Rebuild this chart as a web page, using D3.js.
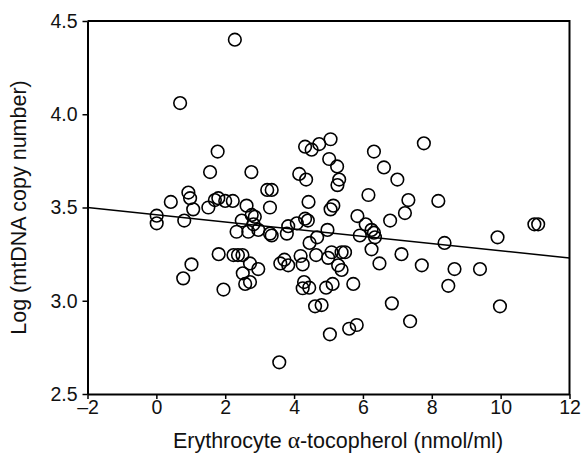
<!DOCTYPE html>
<html>
<head>
<meta charset="utf-8">
<script src="https://cdn.jsdelivr.net/npm/d3@7"></script>
<style>
  body { margin: 0; background: #fff; }
  svg { font-family: "Liberation Sans", Arial, sans-serif; }
</style>
</head>
<body>
<div class="chart"></div>
<script>
// erythrocyte alpha-tocopherol (nmol/ml)
var tocopherol = [
  0.01, 0.01, 0.42, 0.69, 0.81, 0.93, 0.98, 1.07, 1.02, 0.78,
  1.51, 1.56, 1.70, 1.80, 1.78, 1.81, 1.95, 2.00, 2.28, 2.22,
  2.62, 2.76, 2.77, 2.86, 2.48, 2.33, 2.67, 2.82, 2.96, 3.30,
  3.35, 3.22, 3.35, 3.30, 2.24, 2.37, 2.50, 2.51, 2.72, 2.96,
  2.58, 2.72, 3.60, 3.72, 3.83, 3.57, 3.83, 3.79, 4.08, 4.15,
  4.35, 4.32, 4.51, 4.73, 5.06, 5.02, 5.25, 5.31, 5.26, 4.42,
  5.14, 5.06, 4.32, 4.40, 4.97, 4.67, 4.45, 4.19, 4.25, 4.64,
  4.99, 5.09, 5.38, 5.48, 5.28, 5.38, 4.29, 4.25, 4.44, 4.93,
  5.12, 5.72, 4.61, 4.80, 5.04, 5.60, 5.82, 5.84, 6.08, 5.91,
  6.25, 6.32, 6.35, 6.16, 6.32, 6.61, 7.00, 7.32, 7.22, 6.79,
  6.25, 6.48, 7.12, 7.71, 6.84, 7.37, 7.77, 8.19, 8.37, 8.66,
  9.40, 8.48, 9.98, 9.91, 10.98, 11.09
];

// log (mtDNA copy number)
var logCopyNumber = [
  3.456, 3.415, 3.53, 4.06, 3.43, 3.58, 3.55, 3.49, 3.195, 3.12,
  3.50, 3.69, 3.54, 3.55, 3.80, 3.25, 3.06, 3.535, 4.40, 3.535,
  3.51, 3.69, 3.46, 3.45, 3.43, 3.37, 3.37, 3.41, 3.38, 3.36,
  3.35, 3.594, 3.594, 3.50, 3.245, 3.245, 3.245, 3.147, 3.20, 3.17,
  3.09, 3.10, 3.20, 3.22, 3.19, 2.67, 3.40, 3.36, 3.415, 3.68,
  3.65, 3.826, 3.81, 3.84, 3.866, 3.76, 3.72, 3.65, 3.62, 3.53,
  3.51, 3.49, 3.44, 3.43, 3.38, 3.34, 3.31, 3.24, 3.195, 3.245,
  3.23, 3.26, 3.26, 3.26, 3.19, 3.165, 3.10, 3.067, 3.07, 3.07,
  3.09, 3.09, 2.97, 2.977, 2.82, 2.85, 2.87, 3.454, 3.41, 3.35,
  3.38, 3.365, 3.34, 3.567, 3.80, 3.715, 3.65, 3.54, 3.47, 3.43,
  3.276, 3.20, 3.25, 3.19, 2.986, 2.89, 3.844, 3.535, 3.31, 3.17,
  3.17, 3.08, 2.97, 3.34, 3.41, 3.41
];

var xTicks = [-2, 0, 2, 4, 6, 8, 10, 12];
var yTicks = [2.5, 3.0, 3.5, 4.0, 4.5];

// fitted regression line
var fitIntercept = 3.461;
var fitSlope = -0.0193;

var svgWidth = 584;
var svgHeight = 460;

var margin = { top: 21, right: 14.5, bottom: 66, left: 87.5 };
var width = svgWidth - margin.left - margin.right;
var height = svgHeight - margin.top - margin.bottom;

var svg = d3.select(".chart")
  .append("svg")
  .attr("width", svgWidth)
  .attr("height", svgHeight);

var chartGroup = svg.append("g")
  .attr("transform", `translate(${margin.left}, ${margin.top})`);

var xScale = d3.scaleLinear().domain([-2, 12]).range([0, width]);
var yScale = d3.scaleLinear().domain([2.5, 4.5]).range([height, 0]);

// frame (top and right sides)
chartGroup.append("path")
  .attr("d", `M0,0H${width}V${height}`)
  .attr("fill", "none")
  .attr("stroke", "#000")
  .attr("stroke-width", 2);

var bottomAxis = d3.axisBottom(xScale)
  .tickValues(xTicks)
  .tickSize(5)
  .tickPadding(1)
  .tickSizeOuter(0)
  .tickFormat(d => d < 0 ? "\u2013" + Math.abs(d) : d);

var leftAxis = d3.axisLeft(yScale)
  .tickValues(yTicks)
  .tickSize(5)
  .tickPadding(5)
  .tickSizeOuter(0)
  .tickFormat(d3.format(".1f"));

var xAxis = chartGroup.append("g")
  .attr("transform", `translate(0, ${height})`)
  .call(bottomAxis);

var yAxis = chartGroup.append("g")
  .call(leftAxis);

[xAxis, yAxis].forEach(function(ax) {
  ax.select(".domain").attr("stroke-width", 2);
  ax.selectAll(".tick line").attr("stroke-width", 1.5);
  ax.selectAll("text")
    .attr("font-size", 19.5)
    .attr("font-family", "Liberation Sans, Arial, sans-serif")
    .attr("fill", "#111");
});

// regression line
chartGroup.append("line")
  .attr("x1", xScale(-2))
  .attr("y1", yScale(fitIntercept + fitSlope * -2))
  .attr("x2", xScale(12))
  .attr("y2", yScale(fitIntercept + fitSlope * 12))
  .attr("stroke", "#000")
  .attr("stroke-width", 1.5);

// points
chartGroup.selectAll("circle")
  .data(tocopherol)
  .enter()
  .append("circle")
  .attr("cx", d => xScale(d))
  .attr("cy", (d, i) => yScale(logCopyNumber[i]))
  .attr("r", 6.3)
  .attr("fill", "none")
  .attr("stroke", "#000")
  .attr("stroke-width", 1.6);

// axis titles
var xTitle = svg.append("text")
  .attr("x", 338)
  .attr("y", 448)
  .attr("text-anchor", "middle")
  .attr("font-size", 21.5)
  .attr("fill", "#111");
xTitle.append("tspan").text("Erythrocyte ");
xTitle.append("tspan").attr("font-family", "Liberation Serif, serif").attr("font-size", 23.5).text("\u03b1");
xTitle.append("tspan").text("-tocopherol (nmol/ml)");

svg.append("text")
  .attr("transform", `translate(26, ${margin.top + height / 2}) rotate(-90)`)
  .attr("text-anchor", "middle")
  .attr("font-size", 21.5)
  .attr("fill", "#111")
  .text("Log (mtDNA copy number)");
</script>
</body>
</html>
